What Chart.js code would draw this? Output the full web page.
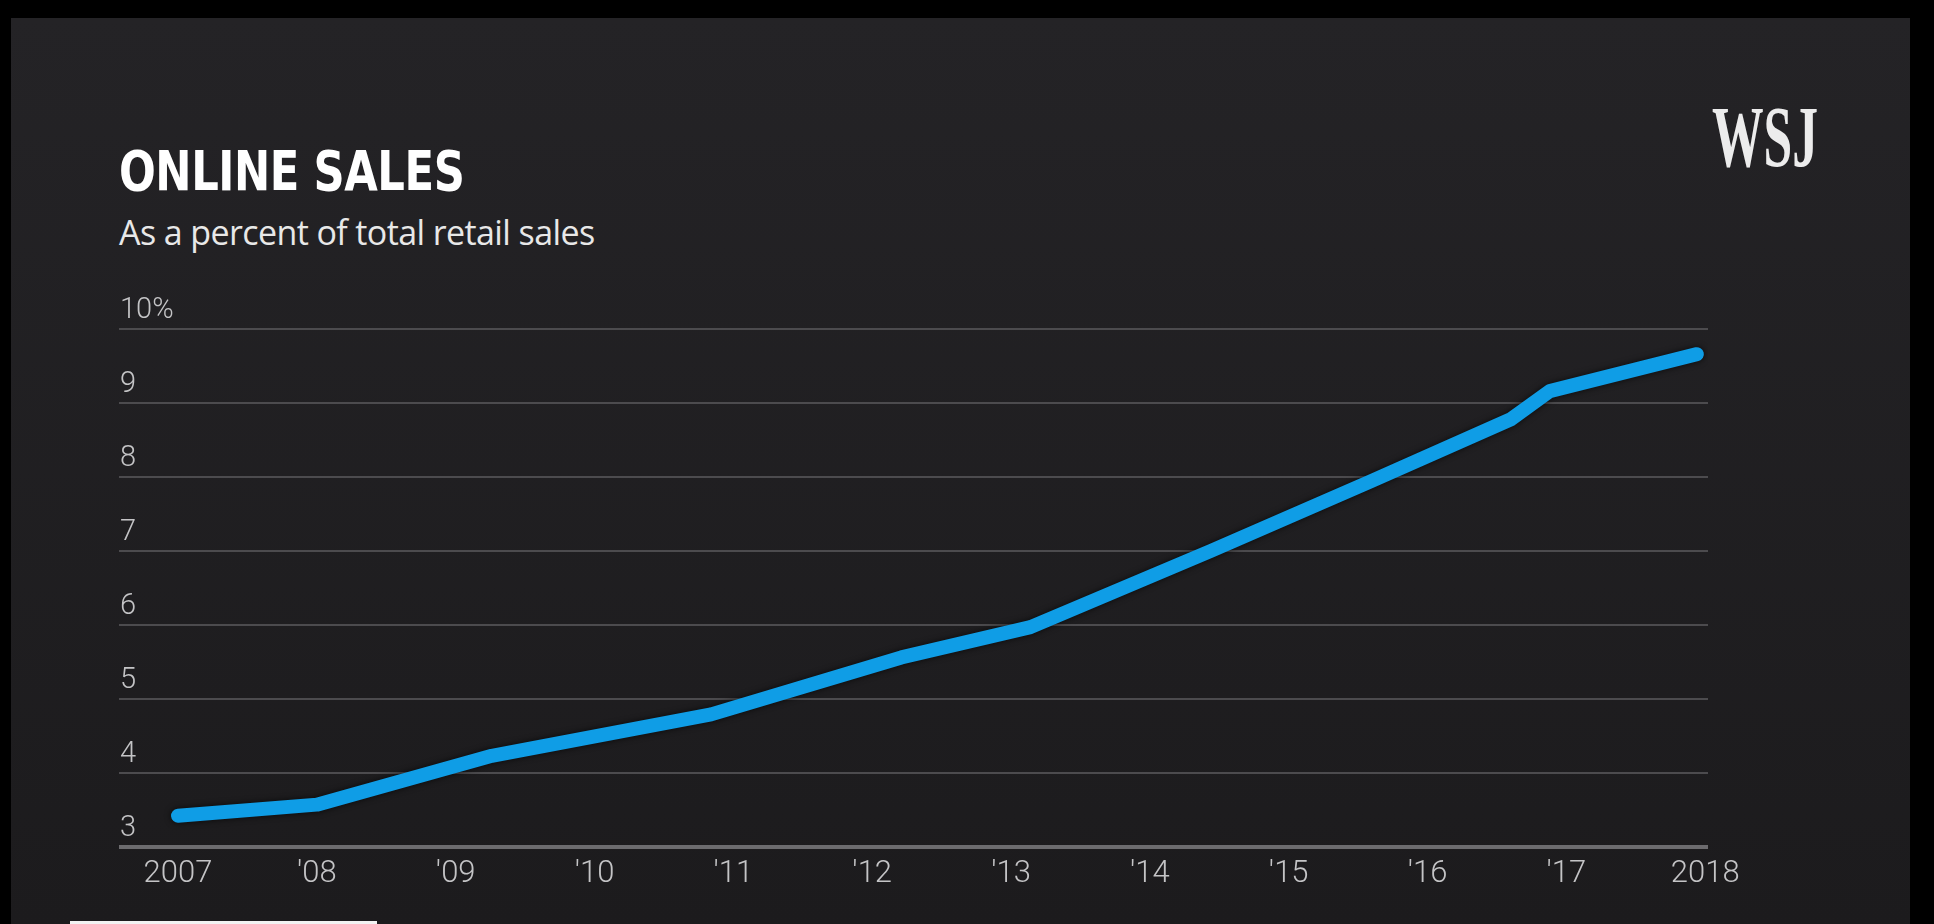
<!DOCTYPE html>
<html>
<head>
<meta charset="utf-8">
<title>Online Sales</title>
<script src="https://cdn.jsdelivr.net/npm/chart.js@4.4.1/dist/chart.umd.min.js"></script>
<style>
    html, body {
        margin: 0;
        padding: 0;
        width: 1934px;
        height: 924px;
        background: #000;
        overflow: hidden;
    }
    .panel {
        position: absolute;
        left: 11px;
        top: 18px;
        width: 1899px;
        height: 906px;
        background: linear-gradient(#242326, #1c1b1d);
    }
    .strip {
        position: absolute;
        left: 70px;
        top: 921px;
        width: 307px;
        height: 3px;
        background: #f2f2f2;
    }
    .title {
        position: absolute;
        left: 119px;
        top: 144px;
        font-family: "Liberation Sans Narrow", "DejaVu Sans Condensed", sans-serif;
        font-weight: bold;
        font-size: 55px;
        line-height: 1;
        color: #fff;
        letter-spacing: -0.5px;
        transform: scaleX(0.875);
        transform-origin: left top;
    }
    .subtitle {
        position: absolute;
        left: 119px;
        top: 215px;
        font-family: "Open Sans", sans-serif;
        font-size: 34px;
        line-height: 1;
        color: #e8e8e8;
        letter-spacing: -0.6px;
    }
    .logo {
        position: absolute;
        left: 1712px;
        top: 94px;
        font-family: "Liberation Serif", serif;
        font-weight: bold;
        font-size: 86px;
        line-height: 1;
        color: #ececec;
        transform: scaleX(0.6);
        transform-origin: left top;
    }
    .chart-box {
        position: absolute;
        left: 0;
        top: 0;
        width: 1934px;
        height: 924px;
    }
</style>
</head>
<body>
<div class="panel"></div>
<div class="strip"></div>
<div class="title">ONLINE SALES</div>
<div class="subtitle">As a percent of total retail sales</div>
<div class="logo">WSJ</div>
<div class="chart-box"><canvas id="salesChart"></canvas></div>

<script>
// Online sales as % of total retail sales
const pointYears = [2007.0, 2008.0, 2009.26, 2010.84, 2012.21, 2013.14, 2014.44, 2015.59, 2016.6, 2016.88, 2017.94];
const pointValues = [3.42, 3.57, 4.23, 4.79, 5.56, 5.97, 7.0, 7.94, 8.78, 9.16, 9.66];

const xTickYears = [2007, 2008, 2009, 2010, 2011, 2012, 2013, 2014, 2015, 2016, 2017, 2018];
const xTickLabels = ['2007', "'08", "'09", "'10", "'11", "'12", "'13", "'14", "'15", "'16", "'17", '2018'];

const yTickValues = [3, 4, 5, 6, 7, 8, 9, 10];
const yTickLabels = ['3', '4', '5', '6', '7', '8', '9', '10%'];

const tickFont = { family: 'Roboto, "Open Sans", sans-serif', size: 31, weight: '300' };

// soft dark halo under the line
const lineShadow = {
    id: 'lineShadow',
    beforeDatasetDraw(chart) {
        const ctx = chart.ctx;
        ctx.save();
        ctx.shadowColor = 'rgba(0, 0, 0, 0.7)';
        ctx.shadowBlur = 6;
    },
    afterDatasetDraw(chart) {
        chart.ctx.restore();
    }
};

const ctx = document.getElementById('salesChart').getContext('2d');

new Chart(ctx, {
    type: 'line',
    data: {
        datasets: [{
            label: 'Online sales',
            data: pointYears.map((yr, i) => ({ x: yr, y: pointValues[i] })),
            borderColor: '#0f9de6',
            borderWidth: 14,
            borderCapStyle: 'round',
            borderJoinStyle: 'round',
            pointRadius: 0,
            tension: 0,
            fill: false
        }]
    },
    options: {
        responsive: true,
        maintainAspectRatio: false,
        animation: false,
        layout: {
            padding: { left: 117, right: 226, top: 329, bottom: 22 }
        },
        plugins: {
            legend: { display: false },
            tooltip: { enabled: false }
        },
        scales: {
            x: {
                type: 'linear',
                min: 2006.575,
                max: 2018.02,
                afterBuildTicks: (axis) => {
                    axis.ticks = xTickYears.map(v => ({ value: v }));
                },
                grid: { display: false, drawTicks: false },
                border: { display: false },
                ticks: {
                    autoSkip: false,
                    maxRotation: 0,
                    padding: 9,
                    color: '#c4c4c6',
                    font: tickFont,
                    callback: (value, index) => xTickLabels[index]
                }
            },
            y: {
                min: 3,
                max: 10,
                afterBuildTicks: (axis) => {
                    axis.ticks = yTickValues.map(v => ({ value: v }));
                },
                grid: {
                    drawTicks: false,
                    color: (c) => c.tick && c.tick.value === 3 ? '#6c6b6e' : '#4c4b4e',
                    lineWidth: (c) => c.tick && c.tick.value === 3 ? 4 : 2
                },
                border: { display: false },
                ticks: {
                    mirror: true,
                    padding: 1,
                    labelOffset: -18,
                    color: '#c4c4c6',
                    font: { family: tickFont.family, size: 29, weight: '300' },
                    callback: (value, index) => yTickLabels[index]
                }
            }
        }
    },
    plugins: [lineShadow]
});
</script>
</body>
</html>
